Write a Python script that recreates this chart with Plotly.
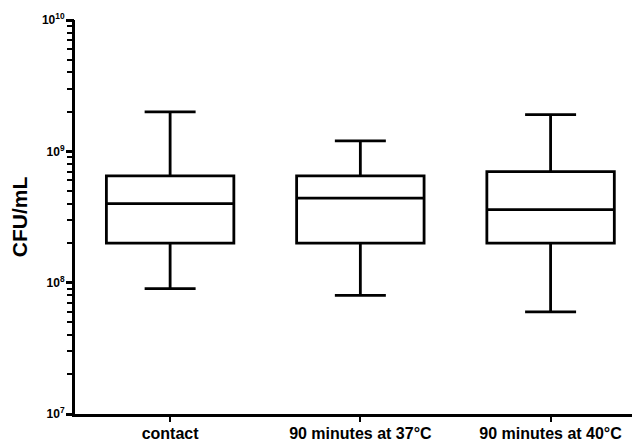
import plotly.graph_objects as go

categories = ["contact", "90 minutes at 37°C", "90 minutes at 40°C"]
lower_whisker = [9.0e7, 8.0e7, 6.0e7]
q1_values = [2.0e8, 2.0e8, 2.0e8]
median_values = [4.0e8, 4.4e8, 3.6e8]
q3_values = [6.5e8, 6.5e8, 7.0e8]
upper_whisker = [2.0e9, 1.2e9, 1.9e9]
y_tick_vals = [1e7, 1e8, 1e9, 1e10]
y_tick_text = ["<b>10<sup>7</sup></b>", "<b>10<sup>8</sup></b>", "<b>10<sup>9</sup></b>", "<b>10<sup>10</sup></b>"]
minor_multipliers = [2, 3, 4, 5, 6, 7, 8, 9]
minor_tick_vals = [m * d for d in [1e7, 1e8, 1e9] for m in minor_multipliers]

all_tick_vals = y_tick_vals + minor_tick_vals
all_tick_text = y_tick_text + [""] * len(minor_tick_vals)

fig = go.Figure()
fig.add_trace(go.Box(
    x=categories,
    q1=q1_values,
    median=median_values,
    q3=q3_values,
    lowerfence=lower_whisker,
    upperfence=upper_whisker,
    boxpoints=False,
    width=0.67,
    whiskerwidth=0.4,
    fillcolor="white",
    line=dict(color="black", width=2.8),
    showlegend=False,
    hoverinfo="skip",
))
# invisible helper so the overlay axis (longer major ticks) is drawn
fig.add_trace(go.Scatter(
    x=categories, y=median_values, yaxis="y2", mode="markers",
    marker=dict(opacity=0), showlegend=False, hoverinfo="skip",
))

# page body has an 8px default margin, so the figure is 8px smaller
fig.update_layout(
    width=632, height=432,
    margin=dict(l=67, r=0, t=12, b=26),
    paper_bgcolor="white",
    plot_bgcolor="white",
    font=dict(family="Liberation Sans, Arial, sans-serif", color="black"),
    xaxis=dict(
        type="category",
        range=[-0.5, 2.47],
        automargin=False,
        showline=True, linecolor="black", linewidth=3,
        ticks="outside", ticklen=5, tickwidth=2, tickcolor="black",
        tickfont=dict(size=16, weight="bold"),
        ticklabelstandoff=-2,
        showgrid=False, zeroline=False,
    ),
    yaxis=dict(
        type="log",
        range=[7, 10],
        automargin=False,
        tickmode="array",
        tickvals=all_tick_vals,
        ticktext=all_tick_text,
        showline=True, linecolor="black", linewidth=3,
        ticks="outside", ticklen=5, tickwidth=2, tickcolor="black",
        tickfont=dict(size=12),
        showgrid=False, zeroline=False,
        title=dict(text="<b>CFU/mL</b>", font=dict(size=21), standoff=14),
    ),
    yaxis2=dict(
        type="log", range=[7, 10], overlaying="y", side="left", anchor="x",
        automargin=False, tickmode="array", tickvals=y_tick_vals,
        showticklabels=False, ticks="outside", ticklen=8, tickwidth=2.5, tickcolor="black",
        showline=False, showgrid=False, zeroline=False,
    ),
)

fig.write_html("out.html")
